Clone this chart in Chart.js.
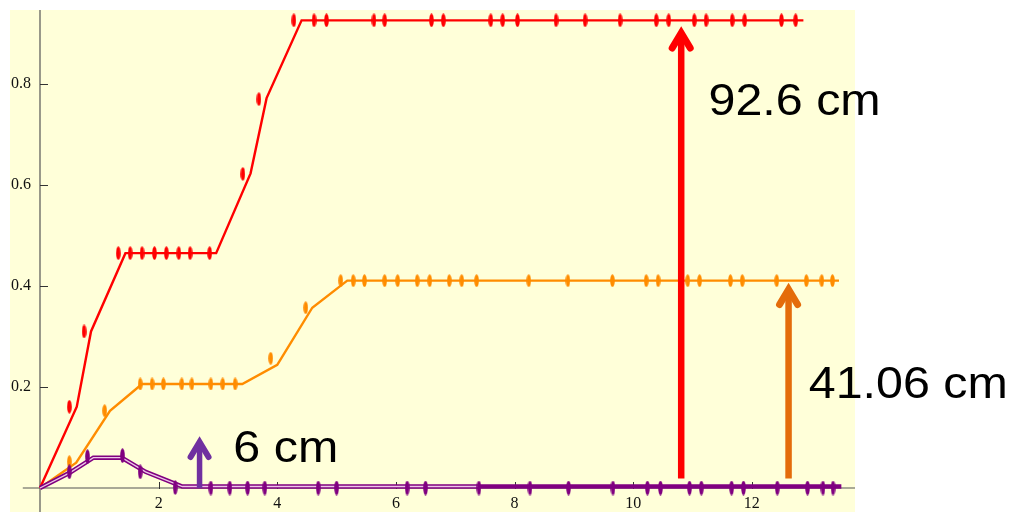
<!DOCTYPE html>
<html>
<head>
<meta charset="utf-8">
<script src="https://cdn.jsdelivr.net/npm/chart.js@4.4.1/dist/chart.umd.min.js"></script>
<style>
  html, body { margin: 0; padding: 0; background: #ffffff; }
  #wrap { width: 1010px; height: 512px; position: relative; }
</style>
</head>
<body>
<div id="wrap"><canvas id="chart" width="1010" height="512"></canvas></div>
<script>
// Height (m) against time (s): fitted model vertices and measured points per series.
const redLineX = [0, 0.62, 0.86, 1.44, 2.97, 3.55, 3.82, 4.41, 12.87];
const redLineY = [0, 0.161, 0.31, 0.465, 0.465, 0.623, 0.772, 0.926, 0.926];
const redPtsX = [0.495, 0.743, 1.32, 1.52, 1.72, 1.93, 2.13, 2.34, 2.53, 2.86, 3.42, 3.69,
  4.28, 4.62, 4.83, 5.63, 5.81, 6.60, 6.80, 7.60, 7.80, 8.05, 8.70, 9.19, 9.78, 10.39,
  10.60, 11.03, 11.23, 11.67, 11.88, 12.50, 12.74];
const redPtsY = [0.161, 0.31, 0.465, 0.465, 0.465, 0.465, 0.465, 0.465, 0.465, 0.465, 0.622, 0.770,
  0.926, 0.926, 0.926, 0.926, 0.926, 0.926, 0.926, 0.926, 0.926, 0.926, 0.926, 0.926, 0.926, 0.926,
  0.926, 0.926, 0.926, 0.926, 0.926, 0.926, 0.926];

const orangeLineX = [0, 0.61, 1.18, 1.72, 3.41, 4.0, 4.59, 5.18, 13.47];
const orangeLineY = [0, 0.050, 0.153, 0.206, 0.206, 0.244, 0.357, 0.4106, 0.4106];
const orangePtsX = [0.495, 1.09, 1.69, 1.89, 2.08, 2.39, 2.56, 2.88, 3.08, 3.29, 3.89, 4.48,
  5.07, 5.28, 5.47, 5.81, 6.03, 6.36, 6.57, 6.90, 7.11, 7.36, 8.24, 8.90, 9.65, 10.22,
  10.42, 10.92, 11.12, 11.64, 11.84, 12.42, 12.92, 13.18, 13.36];
const orangePtsY = [0.052, 0.153, 0.206, 0.206, 0.206, 0.206, 0.206, 0.206, 0.206, 0.206, 0.257, 0.357,
  0.4106, 0.4106, 0.4106, 0.4106, 0.4106, 0.4106, 0.4106, 0.4106, 0.4106, 0.4106, 0.4106, 0.4106,
  0.4106, 0.4106, 0.4106, 0.4106, 0.4106, 0.4106, 0.4106, 0.4106, 0.4106, 0.4106, 0.4106];

const purpleLineX = [0, 0.50, 0.90, 1.38, 1.78, 2.40, 7.40, 13.51];
const purpleLineY = [0, 0.030, 0.060, 0.060, 0.032, 0.003, 0.003, 0.003];
const purplePtsX = [-0.11, 0.495, 0.80, 1.39, 1.69, 2.28, 2.88, 3.20, 3.50, 3.79, 4.69, 5.00,
  6.19, 6.50, 7.40, 8.26, 8.91, 9.66, 10.24, 10.46, 10.95, 11.15, 11.66, 11.86, 12.43,
  12.94, 13.20, 13.37];
const purplePtsY = [0, 0.032, 0.062, 0.064, 0.032, 0.001, 0, 0, 0, 0, 0, 0,
  0, 0, 0, 0, 0, 0, 0, 0, 0, 0, 0, 0, 0, 0, 0, 0];

// Axis ticks
const xMajorTicks = [2, 4, 6, 8, 10, 12];
const yMajorTicks = [0.2, 0.4, 0.6, 0.8];

// Annotation callouts: arrows (data coordinates) and their captions
const callouts = [
  { text: '92.6 cm',  color: '#FF0000', ax: 10.81, from: 0.019, to: 0.901, tx: 11.27, ty: 0.7386 },
  { text: '41.06 cm', color: '#E46C0A', ax: 12.62, from: 0.019, to: 0.393, tx: 12.96, ty: 0.178 },
  { text: '6 cm',     color: '#7030A0', ax: 2.69,  from: 0,     to: 0.091, tx: 3.26,  ty: 0.0515 }
];

const zip = (xs, ys) => xs.map((x, i) => ({ x, y: ys[i] }));

function ellipseMarker(color, w, h) {
  const c = document.createElement('canvas');
  c.width = w; c.height = h;
  const g = c.getContext('2d');
  g.fillStyle = color;
  g.beginPath();
  g.ellipse(w / 2, h / 2, w / 2 - 0.2, h / 2 - 0.2, 0, 0, Math.PI * 2);
  g.fill();
  return c;
}

const RED = '#FF0000', ORANGE = '#FF8C00', PURPLE = '#800080';

const isMult = (v, step) => Math.abs(v / step - Math.round(v / step)) < 1e-6;
const inList = (list, v) => list.some(m => Math.abs(m - v) < 1e-6);

const backdrop = {
  id: 'backdrop',
  beforeDraw(chart) {
    const { ctx, chartArea: ca } = chart;
    ctx.save();
    ctx.fillStyle = '#ffffff';
    ctx.fillRect(0, 0, chart.width, chart.height);
    ctx.fillStyle = '#FFFFD9';
    ctx.fillRect(ca.left - 30, ca.top, ca.right - ca.left + 30, chart.height - ca.top);
    ctx.restore();
  }
};

const axesThroughOrigin = {
  id: 'axesThroughOrigin',
  beforeDatasetsDraw(chart) {
    const { ctx, chartArea: ca } = chart;
    const xs = chart.scales.x, ys = chart.scales.y;
    const x0 = xs.getPixelForValue(0), y0 = ys.getPixelForValue(0);
    ctx.save();
    ctx.strokeStyle = '#555555';
    ctx.lineWidth = 1.2;
    ctx.beginPath();
    ctx.moveTo(xs.getPixelForValue(-0.29), y0);
    ctx.lineTo(ca.right, y0);
    ctx.moveTo(x0, ca.top);
    ctx.lineTo(x0, chart.height);
    ctx.stroke();

    ctx.strokeStyle = '#333333';
    ctx.lineWidth = 1;
    ctx.beginPath();
    xs.ticks.forEach(t => {
      const v = t.value;
      if (v <= 0 || !isMult(v, 0.5)) return;
      const px = Math.round(xs.getPixelForValue(v)) + 0.5;
      const len = inList(xMajorTicks, v) ? 6 : 4;
      ctx.moveTo(px, y0 + 1);
      ctx.lineTo(px, y0 - len);
    });
    ys.ticks.forEach(t => {
      const v = t.value;
      if (v <= 0 || !isMult(v, 0.05)) return;
      const py = Math.round(ys.getPixelForValue(v)) + 0.5;
      const len = inList(yMajorTicks, v) ? 8 : 5;
      ctx.moveTo(x0, py);
      ctx.lineTo(x0 + len, py);
    });
    ctx.stroke();
    ctx.restore();
  }
};

const calloutPlugin = {
  id: 'callouts',
  afterDatasetsDraw(chart) {
    const { ctx } = chart;
    const xs = chart.scales.x, ys = chart.scales.y;
    ctx.save();
    callouts.forEach(c => {
      const px = xs.getPixelForValue(c.ax);
      const pBase = ys.getPixelForValue(c.from);
      const pTip = ys.getPixelForValue(c.to);
      const w = c.color === '#7030A0' ? 5.5 : 6.5;
      ctx.strokeStyle = c.color;
      ctx.lineWidth = w;
      ctx.lineCap = 'butt';
      ctx.beginPath();
      ctx.moveTo(px, pBase);
      ctx.lineTo(px, pTip + 3);
      ctx.stroke();
      ctx.lineCap = 'round';
      ctx.lineJoin = 'miter';
      ctx.miterLimit = 10;
      ctx.lineWidth = w + 0.5;
      ctx.beginPath();
      ctx.moveTo(px - 9, pTip + 15);
      ctx.lineTo(px, pTip);
      ctx.lineTo(px + 9, pTip + 15);
      ctx.stroke();

      ctx.save();
      ctx.translate(xs.getPixelForValue(c.tx), ys.getPixelForValue(c.ty));
      ctx.scale(1.1, 1);
      ctx.fillStyle = '#000000';
      ctx.font = '44px "Liberation Sans", Arial, sans-serif';
      ctx.textBaseline = 'alphabetic';
      ctx.textAlign = 'left';
      ctx.fillText(c.text, 0, 0);
      ctx.restore();
    });
    ctx.restore();
  }
};

const lineDs = (label, xs, ys, color, width, order) => ({
  label, data: zip(xs, ys), borderColor: color, borderWidth: width,
  pointRadius: 0, fill: false, tension: 0, clip: false, order
});
const pointDs = (label, xs, ys, marker, order) => ({
  label, data: zip(xs, ys), showLine: false, pointStyle: marker,
  pointRadius: 5, clip: false, order
});

const tickFont = { family: '"Liberation Serif", "Times New Roman", serif', size: 16 };

new Chart(document.getElementById('chart'), {
  type: 'line',
  data: {
    datasets: [
      pointDs('purple data', purplePtsX, purplePtsY, ellipseMarker(PURPLE, 5, 15), 0),
      lineDs('purple model core', purpleLineX.slice(0, 7), purpleLineY.slice(0, 7), '#EDC6E8', 1.3, 1),
      lineDs('purple model', purpleLineX, purpleLineY, PURPLE, 4.5, 2),
      pointDs('orange data', orangePtsX, orangePtsY, ellipseMarker(ORANGE, 5, 13), 3),
      lineDs('orange model', orangeLineX, orangeLineY, ORANGE, 2.4, 4),
      pointDs('red data', redPtsX, redPtsY, ellipseMarker(RED, 5, 14), 5),
      lineDs('red model', redLineX, redLineY, RED, 2.4, 6)
    ]
  },
  options: {
    responsive: false,
    animation: false,
    events: [],
    layout: { padding: { left: 10, top: 10, right: 155, bottom: 0 } },
    plugins: { legend: { display: false }, tooltip: { enabled: false } },
    scales: {
      x: {
        type: 'linear',
        min: 0,
        max: 13.74,
        afterFit(scale) {
          scale.height = 24;
          scale.paddingLeft = 0; scale.paddingRight = 0;
        },
        grid: { display: false, drawTicks: false },
        border: { display: false },
        ticks: {
          stepSize: 0.5,
          includeBounds: false,
          autoSkip: false,
          maxRotation: 0,
          padding: 6,
          color: '#111111',
          font: tickFont,
          callback: v => (inList(xMajorTicks, v) ? String(Math.round(v)) : null)
        }
      },
      y: {
        type: 'linear',
        min: 0,
        max: 0.9465,
        afterFit(scale) {
          scale.width = 30;
          scale.paddingTop = 0; scale.paddingBottom = 0;
        },
        grid: { display: false, drawTicks: false },
        border: { display: false },
        ticks: {
          stepSize: 0.05,
          includeBounds: false,
          autoSkip: false,
          padding: 9,
          color: '#111111',
          font: tickFont,
          callback: v => (inList(yMajorTicks, v) ? v.toFixed(1) : null)
        }
      }
    }
  },
  plugins: [backdrop, axesThroughOrigin, calloutPlugin]
});
</script>
</body>
</html>
